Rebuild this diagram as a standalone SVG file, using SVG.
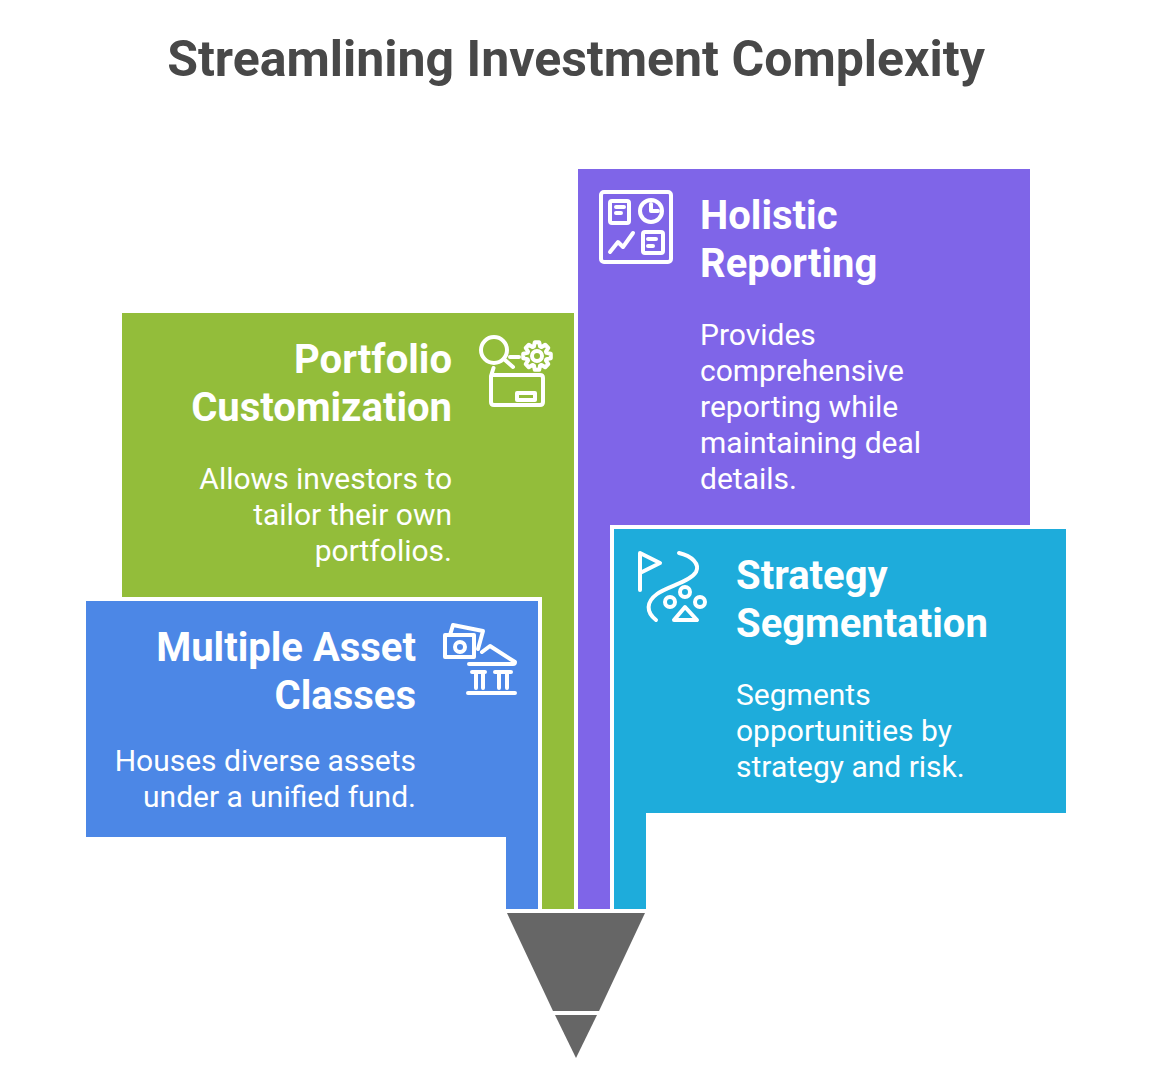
<svg xmlns="http://www.w3.org/2000/svg" width="1152" height="1077" viewBox="0 0 1152 1077">
<style>
text{font-family:Roboto,"Liberation Sans",sans-serif;fill:#fff}
.title{font-size:50px;font-weight:700;fill:#484848}
.h{font-size:40px;font-weight:700}
.b{font-size:30px;font-weight:400}
.e{text-anchor:end}
.i{fill:none;stroke:#fff;stroke-width:4;stroke-linecap:round;stroke-linejoin:round}
</style>
<rect width="1152" height="1077" fill="#fff"/>
<text class="title" x="576" y="76" text-anchor="middle">Streamlining Investment Complexity</text>
<g id="node-portfolio">
<path fill="#93BD3A" d="M122 313H574V909H542V597H122Z"/>
<text class="h e" x="452" y="373">Portfolio</text>
<text class="h e" x="452" y="421">Customization</text>
<text class="b e" x="452" y="489">Allows investors to</text>
<text class="b e" x="452" y="525">tailor their own</text>
<text class="b e" x="452" y="561">portfolios.</text>
<g class="i">
<circle cx="494" cy="350" r="13"/><path d="M505 360L513 367M510 357H519"/>
<circle cx="537" cy="356" r="5"/>
<path transform="translate(537 356)" d="M-3.1-9.5L-2.2-13.8H2.2L3.1-9.5L4.5-8.9L8.2-11.3L11.3-8.2L8.9-4.5L9.5-3.1L13.8-2.2V2.2L9.5 3.1L8.9 4.5L11.3 8.2L8.2 11.3L4.5 8.9L3.1 9.5L2.2 13.8H-2.2L-3.1 9.5L-4.5 8.9L-8.2 11.3L-11.3 8.2L-8.9 4.5L-9.5 3.1L-13.8 2.2V-2.2L-9.5-3.1L-8.9-4.5L-11.3-8.2L-8.2-11.3L-4.500-8.9Z"/>
<path d="M493.500 368L491 376V402Q491 405 494 405H540Q543 405 543 402V378Q543 375 540 375H492"/>
<rect x="517" y="393" width="18" height="7"/>
</g>
</g>
<g id="node-holistic">
<path fill="#7F65E8" d="M578 169H1030V525H610V909H578Z"/>
<text class="h" x="700" y="229">Holistic</text>
<text class="h" x="700" y="277">Reporting</text>
<text class="b" x="700" y="345">Provides</text>
<text class="b" x="700" y="381">comprehensive</text>
<text class="b" x="700" y="417">reporting while</text>
<text class="b" x="700" y="453">maintaining deal</text>
<text class="b" x="700" y="489">details.</text>
<g class="i">
<rect x="601" y="192" width="70" height="70" rx="3"/>
<rect x="610" y="201" width="19" height="22" rx="2"/><path d="M616 207H624M616 213H621"/>
<circle cx="651" cy="211" r="11"/><path d="M651 204V211H658"/>
<path d="M610 252L618 242L623 247L633 233"/>
<rect x="643" y="232" width="20" height="21" rx="2"/><path d="M648 239H656M648 246H653"/>
</g>
</g>
<g id="node-multiple">
<path fill="#4C87E6" d="M86 601H538V909H506V837H86Z"/>
<text class="h e" x="416" y="661">Multiple Asset</text>
<text class="h e" x="416" y="709">Classes</text>
<text class="b e" x="416" y="771">Houses diverse assets</text>
<text class="b e" x="416" y="807">under a unified fund.</text>
<g class="i">
<path d="M450 635L453 625L483 631L478 649"/>
<rect x="445" y="635" width="29" height="22"/>
<circle cx="460" cy="647" r="5"/>
<path d="M482 652L490 646L515 662Q515 664 513 664H469"/>
<path d="M472 672H485M495 672H511M476 672V688M483 672V688M499 672V688M507 672V688M468 693H515"/>
</g>
</g>
<g id="node-strategy">
<path fill="#1EACDB" d="M614 529H1066V813H646V909H614Z"/>
<text class="h" x="736" y="589">Strategy</text>
<text class="h" x="736" y="637">Segmentation</text>
<text class="b" x="736" y="705">Segments</text>
<text class="b" x="736" y="741">opportunities by</text>
<text class="b" x="736" y="777">strategy and risk.</text>
<g class="i">
<path d="M640 590V553L660 563L640 573"/>
<path d="M679 553C692 556 700 564 696 572C690 582 668 586 657 594C646 602 646 612 656 620"/>
<circle cx="670" cy="602" r="5"/><circle cx="685" cy="592" r="5"/><circle cx="700" cy="602" r="5"/>
<path d="M685 607L697 620H674Z"/>
</g>
</g>
<g id="node-funnel">
<path fill="#666" d="M507 913H645L599 1011H553Z"/>
<path fill="#666" d="M555 1015H597L576 1058Z"/>
</g>
<g id="connectors"/>
</svg>
